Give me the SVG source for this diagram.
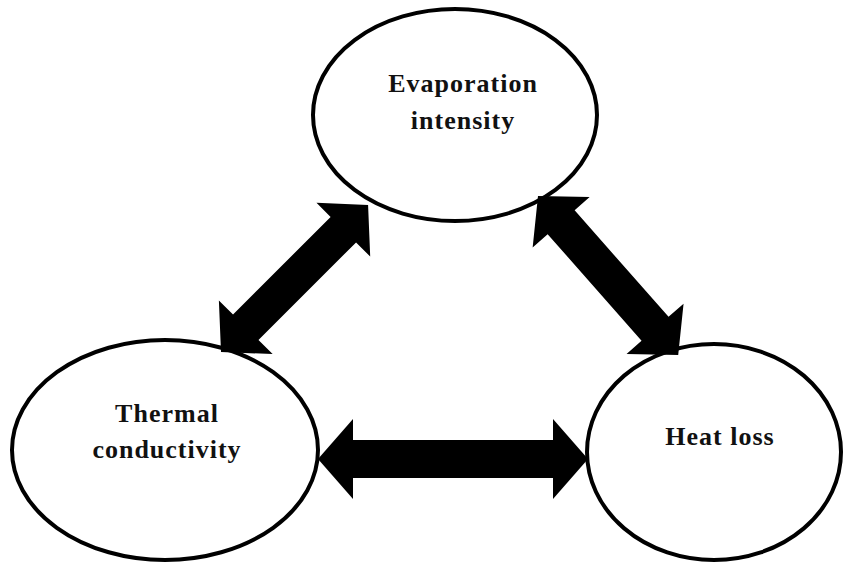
<svg xmlns="http://www.w3.org/2000/svg" width="843" height="563" viewBox="0 0 843 563">
<style>
.node ellipse{fill:#fff;stroke:#000;stroke-width:4}
.node text{font-family:"Liberation Serif","Times New Roman",serif;font-weight:bold;font-size:26px;letter-spacing:1px;fill:#111;text-anchor:middle}
.arrow{fill:#000;stroke:none}
</style>
<rect width="843" height="563" fill="#fff"/>
<g id="evaporation" class="node">
<ellipse cx="455" cy="115" rx="142" ry="106"/>
<text x="463" y="92">Evaporation</text>
<text x="463" y="129">intensity</text>
</g>
<g id="thermal" class="node">
<ellipse cx="165" cy="450" rx="153" ry="110"/>
<text x="167" y="422">Thermal</text>
<text x="167" y="458">conductivity</text>
</g>
<g id="heatloss" class="node">
<ellipse cx="714" cy="452" rx="127" ry="108"/>
<text x="720" y="445">Heat loss</text>
</g>
<g id="connectors">
<path class="arrow" transform="translate(318,459)" d="M0,0 L35,-40 L35,-19 L235,-19 L235,-40 L270,0 L235,40 L235,19 L35,19 L35,40 Z"/>
<path class="arrow" transform="translate(221,352) rotate(-45)" d="M0,0 L35,-38 L35,-18 L173,-18 L173,-38 L208,0 L173,38 L173,18 L35,18 L35,38 Z"/>
<path class="arrow" transform="translate(538,196) rotate(48.6)" d="M0,0 L35,-38 L35,-18 L177,-18 L177,-38 L212,0 L177,38 L177,18 L35,18 L35,38 Z"/>
</g>
</svg>
